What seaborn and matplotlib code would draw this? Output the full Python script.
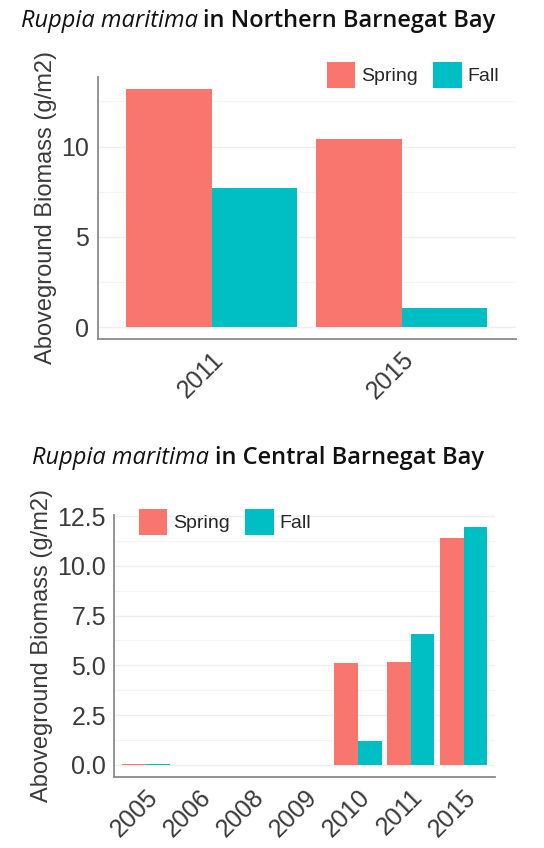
import matplotlib
matplotlib.use('Agg')
import matplotlib.pyplot as plt
import matplotlib.ticker as mticker
import seaborn as sns
import pandas as pd

# Data
seasons = ['Spring', 'Fall']
season_colors = ['#F8766D', '#00BFC4']

north_years = ['2011', '2015']
north_spring = [13.2, 10.4]
north_fall = [7.7, 1.05]

central_years = ['2005', '2006', '2008', '2009', '2010', '2011', '2015']
central_spring = [0.03, 0, 0, 0, 5.1, 5.15, 11.4]
central_fall = [0.03, 0, 0, 0, 1.2, 6.55, 11.95]

north_yticks = [0, 5, 10]
central_yticks = [0, 2.5, 5, 7.5, 10, 12.5]

sns.set_style('white')
plt.rcParams['font.family'] = ['Liberation Sans', 'DejaVu Sans']

TEXT_COL = '#3a3a3a'
AXIS_COL = '#8a8a8a'


def to_long(years, spring, fall):
    return pd.DataFrame({
        'year': years * 2,
        'season': ['Spring'] * len(years) + ['Fall'] * len(years),
        'biomass': spring + fall,
    })


def mixed_title(fig, ycenter, italic_part, bold_part, size=17):
    renderer = fig.canvas.get_renderer()
    t1 = fig.text(0, ycenter, italic_part, fontsize=size, style='italic',
                  family='Open Sans', va='center', ha='left', color='#111111')
    t2 = fig.text(0, ycenter, bold_part, fontsize=size, weight='semibold',
                  family='Open Sans', va='center', ha='left', color='#111111')
    w1 = t1.get_window_extent(renderer).width
    w2 = t2.get_window_extent(renderer).width
    gap = size * 0.3
    total = w1 + gap + w2
    fw = fig.bbox.width
    x0 = (fw / 2 - 14) - total / 2
    t1.set_x(x0 / fw)
    t2.set_x((x0 + w1 + gap) / fw)


def style_panel(ax, yticks, ylim, fmt, minor_step):
    ax.set_ylim(*ylim)
    ax.set_yticks(yticks)
    ax.set_yticklabels([fmt.format(v) for v in yticks])
    ax.yaxis.set_minor_locator(mticker.MultipleLocator(minor_step))
    ax.grid(axis='y', which='major', color='#eeeeee', linewidth=1.0)
    ax.grid(axis='y', which='minor', color='#f4f4f4', linewidth=0.8)
    ax.set_axisbelow(True)
    sns.despine(ax=ax)
    for side in ['left', 'bottom']:
        ax.spines[side].set_color(AXIS_COL)
        ax.spines[side].set_linewidth(1.3)
    ax.tick_params(axis='both', which='major', length=4, width=1.2,
                   color='#333333', labelsize=18, labelcolor=TEXT_COL, pad=2)
    ax.tick_params(axis='y', which='minor', length=0)
    ax.set_xlabel('')
    ax.set_ylabel('Aboveground Biomass (g/m2)', fontsize=17, color=TEXT_COL,
                  labelpad=3)
    for lab in ax.get_xticklabels():
        lab.set_rotation(45)
        lab.set_ha('right')
        lab.set_rotation_mode('anchor')


fig = plt.figure(figsize=(5.44, 8.48), dpi=100)
fig.patch.set_facecolor('white')

legend_kw = dict(ncol=2, frameon=False, fontsize=14, handlelength=1.45,
                 handleheight=1.75, handletextpad=0.3, columnspacing=0.8,
                 loc='center', bbox_transform=fig.transFigure)

# ---- Northern Barnegat Bay ----
ax1 = fig.add_axes([97.7 / 544, 1 - 339 / 848, 418 / 544, (339 - 77) / 848])
north_df = to_long(north_years, north_spring, north_fall)
sns.barplot(data=north_df, x='year', y='biomass', hue='season', hue_order=seasons,
            palette=season_colors, width=0.9, linewidth=0, saturation=1,
            errorbar=None, ax=ax1)
ax1.set_xlim(-0.6, 1.6)
style_panel(ax1, north_yticks, (-0.66, 13.85), '{:g}', 2.5)
handles, labels = ax1.get_legend_handles_labels()
ax1.legend(handles, labels, bbox_to_anchor=(413 / 544, 1 - 75 / 848), **legend_kw)

# ---- Central Barnegat Bay ----
ax2 = fig.add_axes([114.3 / 544, 1 - 776.7 / 848, 381 / 544, (776.7 - 515.3) / 848])
central_df = to_long(central_years, central_spring, central_fall)
sns.barplot(data=central_df, x='year', y='biomass', hue='season', hue_order=seasons,
            palette=season_colors, width=0.9, linewidth=0, saturation=1,
            errorbar=None, ax=ax2)
ax2.set_xlim(-0.6, 6.6)
style_panel(ax2, central_yticks, (-0.6, 12.54), '{:.1f}', 1.25)
handles, labels = ax2.get_legend_handles_labels()
ax2.legend(handles, labels, bbox_to_anchor=(225 / 544, 1 - 522 / 848), **legend_kw)

mixed_title(fig, 1 - 21 / 848, 'Ruppia maritima', 'in Northern Barnegat Bay')
mixed_title(fig, 1 - 458 / 848, 'Ruppia maritima', 'in Central Barnegat Bay')

fig.savefig('out.png', dpi=100, facecolor='white')
